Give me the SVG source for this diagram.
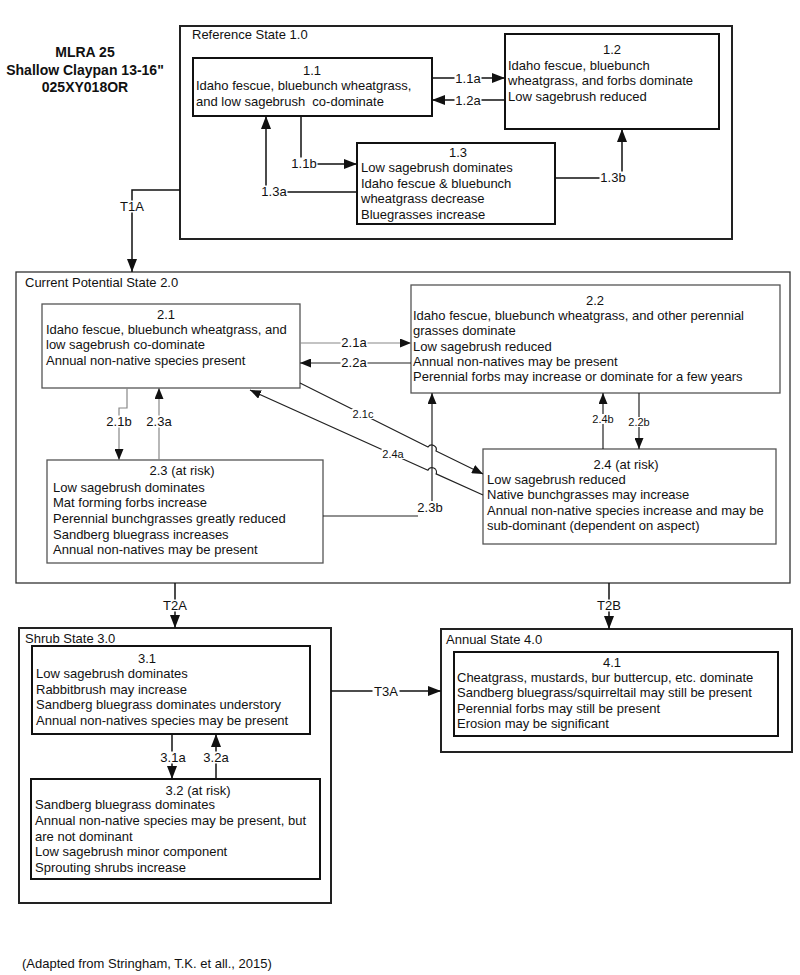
<svg xmlns="http://www.w3.org/2000/svg" width="800" height="975" viewBox="0 0 800 975">
<style>
text{font-family:"Liberation Sans",Arial,sans-serif;font-size:13px;fill:#111;}
.t{font-weight:bold;font-size:14px;text-anchor:middle;}
.c{text-anchor:middle;}
.lb{text-anchor:middle;}
.sm{font-size:11px;}
.bg{fill:#fff;stroke:none;}
.st{fill:#fff;stroke:#222;stroke-width:2;}
.st2{fill:#fff;stroke:#333;stroke-width:1.3;}
.bx{fill:#fff;stroke:#111;stroke-width:2;}
.bx2{fill:#fff;stroke:#555;stroke-width:1.3;}
.ln{fill:none;stroke:#111;stroke-width:1.5;}
.ln2{fill:none;stroke:#222;stroke-width:1.2;}
.lg{fill:none;stroke:#888;stroke-width:1.2;}
</style>
<defs>
<marker id="a" markerUnits="userSpaceOnUse" markerWidth="13" markerHeight="10" refX="13" refY="5" orient="auto"><path d="M0,0L13,5L0,10z" fill="#111"/></marker>
<marker id="b" markerUnits="userSpaceOnUse" markerWidth="11" markerHeight="9" refX="11" refY="4.5" orient="auto"><path d="M0,0L11,4.5L0,9z" fill="#111"/></marker>
</defs>
<rect width="800" height="975" fill="#fff"/>
<g id="title">
<text class="t" x="85" y="57">MLRA 25</text>
<text class="t" x="85" y="74.5">Shallow Claypan 13-16"</text>
<text class="t" x="85" y="92">025XY018OR</text>
</g>
<g id="state1">
<rect class="st" x="180" y="26" width="552" height="213"/>
<text x="192" y="39">Reference State 1.0</text>
</g>
<g id="state2">
<rect class="st2" x="16" y="272" width="774" height="311"/>
<text x="25" y="287">Current Potential State 2.0</text>
</g>
<g id="state3">
<rect class="st" x="19" y="628" width="312" height="275"/>
<text x="25" y="643">Shrub State 3.0</text>
</g>
<g id="state4">
<rect class="st" x="441" y="629" width="351" height="123"/>
<text x="446" y="644">Annual State 4.0</text>
</g>
<g id="n11">
<rect class="bx" x="193" y="58" width="239" height="58"/>
<text class="c" x="312" y="75">1.1</text>
<text x="196" y="90">Idaho fescue, bluebunch wheatgrass,</text>
<text x="196" y="106" xml:space="preserve" style="white-space:pre">and low sagebrush  co-dominate</text>
</g>
<g id="n12">
<rect class="bx" x="505" y="34" width="214" height="95"/>
<text class="c" x="612" y="54">1.2</text>
<text x="508" y="70">Idaho fescue, bluebunch</text>
<text x="508" y="85">wheatgrass, and forbs dominate</text>
<text x="508" y="101">Low sagebrush reduced</text>
</g>
<g id="n13">
<rect class="bx" x="357" y="143" width="198" height="81"/>
<text class="c" x="458" y="157">1.3</text>
<text x="361" y="172">Low sagebrush dominates</text>
<text x="361" y="188">Idaho fescue &amp; bluebunch</text>
<text x="361" y="203">wheatgrass decrease</text>
<text x="361" y="219">Bluegrasses increase</text>
</g>
<g id="n21">
<rect class="bx2" x="42" y="304" width="258" height="84"/>
<text class="c" x="166" y="319">2.1</text>
<text x="46" y="334">Idaho fescue, bluebunch wheatgrass, and</text>
<text x="46" y="349">low sagebrush co-dominate</text>
<text x="46" y="365">Annual non-native species present</text>
</g>
<g id="n22">
<rect class="bx2" x="411" y="285" width="369" height="108"/>
<text class="c" x="595" y="305">2.2</text>
<text x="413" y="320">Idaho fescue, bluebunch wheatgrass, and other perennial</text>
<text x="413" y="335">grasses dominate</text>
<text x="413" y="351">Low sagebrush reduced</text>
<text x="413" y="366">Annual non-natives may be present</text>
<text x="413" y="381">Perennial forbs may increase or dominate for a few years</text>
</g>
<g id="n23">
<rect class="bx2" x="47" y="460" width="276" height="103"/>
<text class="c" x="182" y="475">2.3 (at risk)</text>
<text x="53" y="492">Low sagebrush dominates</text>
<text x="53" y="507">Mat forming forbs increase</text>
<text x="53" y="523">Perennial bunchgrasses greatly reduced</text>
<text x="53" y="539">Sandberg bluegrass increases</text>
<text x="53" y="554">Annual non-natives may be present</text>
</g>
<g id="n24">
<rect class="bx2" x="483" y="449" width="293" height="95"/>
<text class="c" x="626" y="469">2.4 (at risk)</text>
<text x="487" y="484">Low sagebrush reduced</text>
<text x="487" y="499">Native bunchgrasses may increase</text>
<text x="487" y="515">Annual non-native species increase and may be</text>
<text x="487" y="530">sub-dominant (dependent on aspect)</text>
</g>
<g id="n31">
<rect class="bx" x="32" y="646" width="278" height="88"/>
<text class="c" x="147" y="663">3.1</text>
<text x="36" y="678">Low sagebrush dominates</text>
<text x="36" y="694">Rabbitbrush may increase</text>
<text x="36" y="709">Sandberg bluegrass dominates understory</text>
<text x="36" y="725">Annual non-natives species may be present</text>
</g>
<g id="n32">
<rect class="bx" x="31" y="779" width="289" height="100"/>
<text class="c" x="198" y="795">3.2 (at risk)</text>
<text x="35" y="809">Sandberg bluegrass dominates</text>
<text x="35" y="825">Annual non-native species may be present, but</text>
<text x="35" y="841">are not dominant</text>
<text x="35" y="856">Low sagebrush minor component</text>
<text x="35" y="872">Sprouting shrubs increase</text>
</g>
<g id="n41">
<rect class="bx" x="454" y="652" width="324" height="84"/>
<text class="c" x="612" y="667">4.1</text>
<text x="457" y="682">Cheatgrass, mustards, bur buttercup, etc. dominate</text>
<text x="457" y="697">Sandberg bluegrass/squirreltail may still be present</text>
<text x="457" y="713">Perennial forbs may still be present</text>
<text x="457" y="728">Erosion may be significant</text>
</g>
<g id="connectors">
<path class="ln" d="M432,78H505" marker-end="url(#a)"/>
<path class="ln" d="M505,100H432" marker-end="url(#a)"/>
<path class="ln" d="M301,116V164H357" marker-end="url(#a)"/>
<path class="ln" d="M357,192H266V116" marker-end="url(#a)"/>
<path class="ln" d="M555,178H622V129" marker-end="url(#a)"/>
<path class="ln" d="M180,190H132V272" marker-end="url(#a)"/>
<path class="lg" d="M300,343H411" marker-end="url(#b)"/>
<path class="ln2" d="M411,363H300" marker-end="url(#b)"/>
<path class="lg" d="M127,388V408H119V460" marker-end="url(#b)"/>
<path class="lg" d="M159,460V388" marker-end="url(#b)"/>
<path class="ln2" d="M323,516H418M432,501V393" marker-end="url(#b)"/>
<path class="ln2" d="M603,449V393" marker-end="url(#b)"/>
<path class="ln2" d="M639,393V449" marker-end="url(#b)"/>
<path class="ln2" d="M300,383L428,447A4.5,4.5 0 0 1 436,451L483,474" marker-end="url(#b)"/>
<path class="ln2" d="M483,495L436.1,473.9A4.5,4.5 0 0 0 427.9,470.2L250,390" marker-end="url(#b)"/>
<path class="ln" d="M175,583V628" marker-end="url(#a)"/>
<path class="ln" d="M609,583V629" marker-end="url(#a)"/>
<path class="ln" d="M331,691H441" marker-end="url(#a)"/>
<path class="ln" d="M172,734V779" marker-end="url(#a)"/>
<path class="ln" d="M216,779V734" marker-end="url(#a)"/>
<rect class="bg" x="454.5" y="72" width="27" height="12"/>
<rect class="bg" x="454.5" y="94" width="27" height="12"/>
<rect class="bg" x="290.5" y="157.5" width="27" height="12"/>
<rect class="bg" x="260.5" y="185.5" width="27" height="12"/>
<rect class="bg" x="599.5" y="171.5" width="27" height="12"/>
<rect class="bg" x="118.5" y="200.5" width="27" height="12"/>
<rect class="bg" x="340.5" y="336.5" width="27" height="12"/>
<rect class="bg" x="340.5" y="356.5" width="27" height="12"/>
<rect class="bg" x="105.5" y="415.5" width="27" height="12"/>
<rect class="bg" x="145.5" y="415.5" width="27" height="12"/>
<rect class="bg" x="416.5" y="501.5" width="27" height="12"/>
<rect class="bg" x="161.5" y="599.5" width="27" height="12"/>
<rect class="bg" x="595.5" y="599.5" width="27" height="12"/>
<rect class="bg" x="372.5" y="685.5" width="27" height="12"/>
<rect class="bg" x="159.5" y="751.5" width="27" height="12"/>
<rect class="bg" x="202.5" y="751.5" width="27" height="12"/>
<rect class="bg" x="591.5" y="414" width="23" height="10"/>
<rect class="bg" x="627.5" y="417" width="23" height="10"/>
<rect class="bg" x="351.5" y="409" width="23" height="10"/>
<rect class="bg" x="381.5" y="449" width="23" height="10"/>
<text class="lb" x="468" y="82.5">1.1a</text>
<text class="lb" x="468" y="104.5">1.2a</text>
<text class="lb" x="304" y="168">1.1b</text>
<text class="lb" x="274" y="196">1.3a</text>
<text class="lb" x="613" y="182">1.3b</text>
<text class="lb" x="132" y="211">T1A</text>
<text class="lb" x="354" y="347">2.1a</text>
<text class="lb" x="354" y="367">2.2a</text>
<text class="lb" x="119" y="426">2.1b</text>
<text class="lb" x="159" y="426">2.3a</text>
<text class="lb" x="430" y="512">2.3b</text>
<text class="lb sm" x="603" y="423">2.4b</text>
<text class="lb sm" x="639" y="426">2.2b</text>
<text class="lb sm" x="363" y="418">2.1c</text>
<text class="lb sm" x="393" y="458">2.4a</text>
<text class="lb" x="175" y="610">T2A</text>
<text class="lb" x="609" y="610">T2B</text>
<text class="lb" x="386" y="696">T3A</text>
<text class="lb" x="173" y="762">3.1a</text>
<text class="lb" x="216" y="762">3.2a</text>
</g>
<text x="22" y="968">(Adapted from Stringham, T.K. et all., 2015)</text>
</svg>
